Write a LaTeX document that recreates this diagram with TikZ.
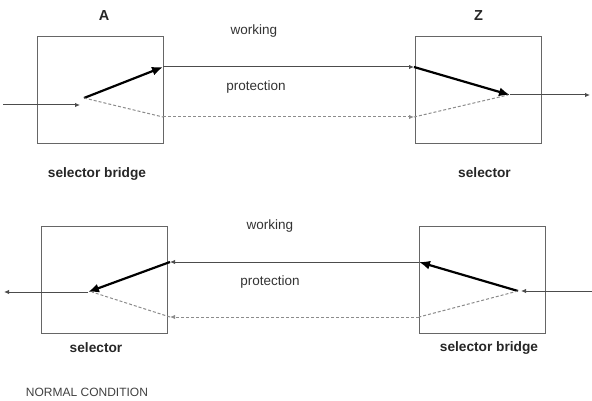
\documentclass[tikz,border=0pt]{standalone}
\usepackage{fontspec}
\setmainfont{Liberation Sans}
\usetikzlibrary{positioning,arrows.meta}

\begin{document}
\begin{tikzpicture}[x=1pt,y=-1pt,
  box/.style={rectangle, draw=black!60, line width=0.9pt, minimum width=126pt, minimum height=107pt, inner sep=0pt},
  side/.style={font=\fontsize{13.7}{16}\selectfont\bfseries, text=black!85},
  route/.style={font=\fontsize{13.5}{16}\selectfont, text=black!80},
  fibre/.style={draw=black!70, line width=1pt, -{Latex[length=5pt,width=4.5pt]}},
  spare/.style={draw=black!45, densely dashed, line width=1pt},
  switch/.style={draw=black, line width=2.2pt, -{Latex[length=11pt,width=9pt]}},]
\useasboundingbox (0,0) rectangle (592,401);
%Nodes
\node[box] (A)  at (100,89.5) {};
\node[box] (Z)  at (478.5,89.5) {};
\node[box] (Ab) at (104,279.5) {};
\node[box] (Zb) at (482,279.5) {};

\node[side, font=\fontsize{14.5}{16}\selectfont\bfseries] (lA) [above=12pt of A, xshift=4pt] {A};
\node[side, font=\fontsize{14.5}{16}\selectfont\bfseries] (lZ) [above=12pt of Z] {Z};
\node[side] (sb1) [below=21pt of A, xshift=-3pt] {selector bridge};
\node[side] (s1)  [below=21pt of Z, xshift=6pt] {selector};
\node[side] (s2)  [below=6pt of Ab, xshift=-8pt] {selector};
\node[side] (sb2) [below=5pt of Zb, xshift=7pt] {selector bridge};

\node[route] (w1) at (254,31) {working};
\node[route] (p1) at (256,87) {protection};
\node[route] (w2) at (270,226) {working};
\node[route] (p2) at (270,282) {protection};

\node[font=\fontsize{12}{14}\selectfont, text=black!75] (nc) at (87,392) {NORMAL CONDITION};

%Points
\coordinate (in1)  at (3,105);
\coordinate (Ain)  at (80,105);
\coordinate (Asw)  at (84,98);
\coordinate (Aw)   at (163,67);
\coordinate (Ap)   at (163,117);
\coordinate (Zw)   at (414,67);
\coordinate (Zp)   at (414,117);
\coordinate (Zsw)  at (510,95);
\coordinate (out1) at (590,95);

\coordinate (in2)  at (592,291);
\coordinate (Bin)  at (521,291);
\coordinate (Bsw)  at (518,291);
\coordinate (Bw)   at (419,262);
\coordinate (Bp)   at (419,317);
\coordinate (Cw)   at (170,262);
\coordinate (Cp)   at (170,317);
\coordinate (Csw)  at (88,292);
\coordinate (out2) at (4,292);

%Lines
\draw[fibre] (in1) -- (Ain);
\draw[switch] (Asw) -- (Aw);
\draw[spare] (Asw) -- (Ap);
\draw[fibre] (Aw) -- (Zw);
\draw[fibre, spare, draw=black!45] (Ap) -- (Zp);
\draw[switch] (Zw) -- (Zsw);
\draw[spare] (Zp) -- ([xshift=-2pt]Zsw);
\draw[fibre] (Zsw) -- (out1);

\draw[fibre] (in2) -- (Bin);
\draw[switch] (Bsw) -- (Bw);
\draw[spare] (Bsw) -- (Bp);
\draw[fibre] (Bw) -- (Cw);
\draw[fibre, spare, draw=black!45] (Bp) -- (Cp);
\draw[switch] (Cw) -- (Csw);
\draw[spare] (Cp) -- ([xshift=4pt]Csw);
\draw[fibre] (Csw) -- (out2);

\end{tikzpicture}
\end{document}
